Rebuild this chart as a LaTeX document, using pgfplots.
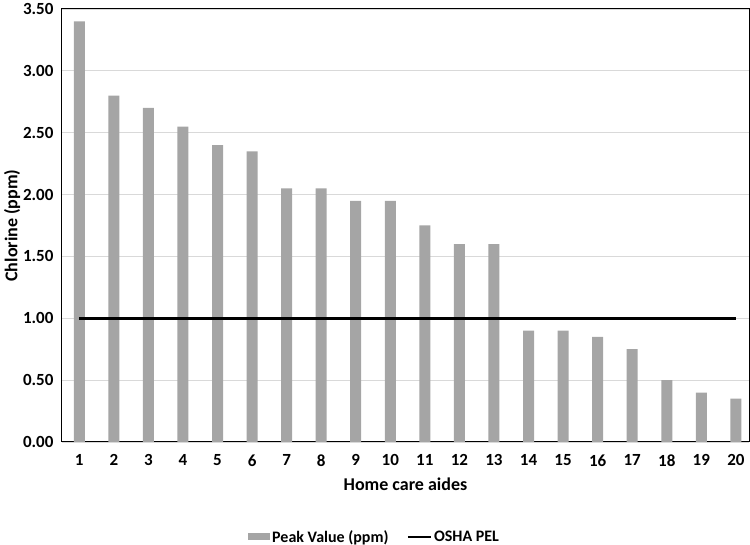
\documentclass[border=0pt]{standalone}
\usepackage{pgfplots}
\pgfplotsset{compat=1.18}
\usepackage{fontspec}
\setmainfont{Carlito}
\definecolor{bargrey}{HTML}{A5A5A5}
\definecolor{gridgrey}{HTML}{D9D9D9}
\begin{document}
\begin{tikzpicture}[x=1pt,y=1pt]
\useasboundingbox (0,0) rectangle (750,545);
\begin{axis}[
  at={(62pt,103pt)}, anchor=south west,
  scale only axis, width=687pt, height=433pt,
  xmin=0.5, xmax=20.38, ymin=0, ymax=3.5,
  xtick={1,...,20}, ytick={0,0.5,...,3.5},
  ymajorgrids, grid style={gridgrey, line width=1.2pt},
  axis line style={black, line width=1pt},
  major tick length=0pt,
  /pgf/number format/assume math mode=true,
  yticklabel style={/pgf/number format/fixed, /pgf/number format/precision=2, /pgf/number format/fixed zerofill},
  ticklabel style={font=\fontsize{17}{19}\selectfont\bfseries},
  xticklabel style={yshift=-9pt},
  yticklabel style={xshift=-5pt},
  xlabel={Home care aides}, ylabel={Chlorine (ppm)},
  label style={font=\fontsize{18}{20}\selectfont\bfseries},
  xlabel style={yshift=-5pt},
  ylabel style={yshift=-4pt},
  legend style={at={(0.455,-0.219)}, anchor=center, draw=none, legend columns=2,
    font=\fontsize{16}{18}\selectfont\bfseries, /tikz/every even column/.append style={column sep=16pt}},
  legend image code/.code={},
]
\addplot[ybar, bar width=11pt, fill=bargrey, draw=none, area legend,
  legend image code/.code={\fill[bargrey] (0pt,-3.5pt) rectangle (22pt,3.5pt);}] coordinates {
(1,3.40) (2,2.80) (3,2.70) (4,2.55) (5,2.40) (6,2.35) (7,2.05) (8,2.05) (9,1.95) (10,1.95)
(11,1.75) (12,1.60) (13,1.60) (14,0.90) (15,0.90) (16,0.85) (17,0.75) (18,0.50) (19,0.40) (20,0.35)};
\addlegendentry{Peak Value (ppm)}
\addplot[black, line width=2.5pt, mark=none,
  legend image code/.code={\draw[black, line width=2.5pt] (0pt,0pt) -- (23pt,0pt);}] coordinates {(1,1.00) (20,1.00)};
\addlegendentry{OSHA PEL}
\end{axis}
\end{tikzpicture}
\end{document}
